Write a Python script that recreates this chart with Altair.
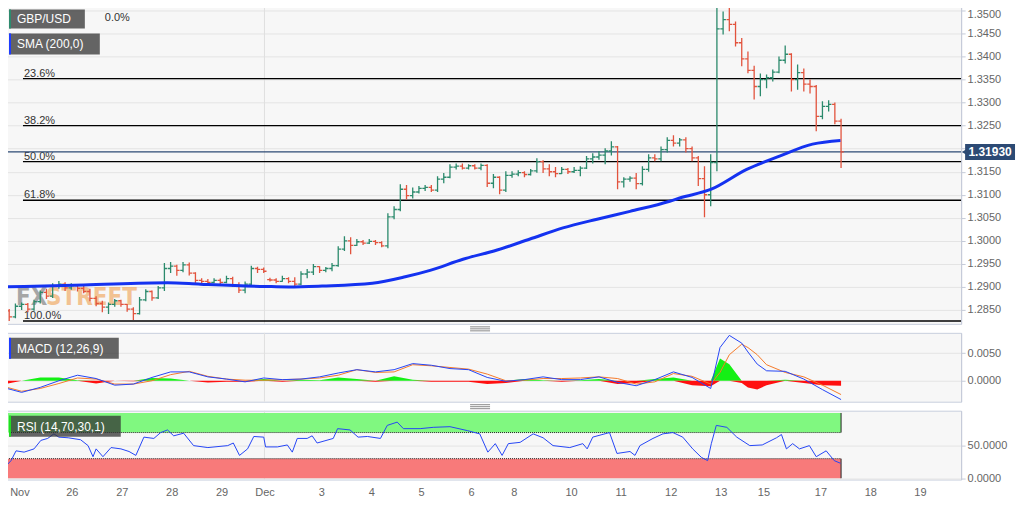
import altair as alt
import pandas as pd

# ---------------- data ----------------
opens = [1.2858, 1.2848, 1.2835, 1.2858, 1.2862, 1.2852, 1.2868, 1.2888, 1.2880, 1.2902,
         1.2906, 1.2898, 1.2903, 1.2897, 1.2890, 1.2875, 1.2864, 1.2856, 1.2862, 1.2870,
         1.2862, 1.2852, 1.2842, 1.2872, 1.2890, 1.2876, 1.2898, 1.2940, 1.2945, 1.2936,
         1.2948, 1.2930, 1.2914, 1.2912, 1.2910, 1.2914, 1.2910, 1.2918, 1.2904, 1.2893,
         1.2906, 1.2940, 1.2938, 1.2916, 1.2915, 1.2912, 1.2918, 1.2912, 1.2906, 1.2928,
         1.2932, 1.2944, 1.2936, 1.2940, 1.2946, 1.2982, 1.3000, 1.2990, 1.2998, 1.2995,
         1.2999, 1.2996, 1.2989, 1.3052, 1.3068, 1.3112, 1.3098, 1.3106, 1.3114, 1.3116,
         1.3110, 1.3134, 1.3138, 1.3160, 1.3162, 1.3158, 1.3163, 1.3158, 1.3164, 1.3125,
         1.3138, 1.3110, 1.3142, 1.3145, 1.3148, 1.3144, 1.3152, 1.3172, 1.3156, 1.3150,
         1.3146, 1.3155, 1.3150, 1.3153, 1.3158, 1.3178, 1.3182, 1.3186, 1.3195, 1.3204,
         1.3128, 1.3134, 1.3136, 1.3124, 1.3155, 1.3180, 1.3178, 1.3198, 1.3218, 1.3212,
         1.3219, 1.3200, 1.3180, 1.3135, 1.3100, 1.3170, 1.3460, 1.3480, 1.3470, 1.3430,
         1.3395, 1.3370, 1.3335, 1.3350, 1.3354, 1.3366, 1.3392, 1.3405, 1.3350, 1.3365,
         1.3340, 1.3335, 1.3270, 1.3292, 1.3296, 1.3260]
highs = [1.2866, 1.2852, 1.2864, 1.2866, 1.2865, 1.2872, 1.2892, 1.2896, 1.2908, 1.2913,
         1.2910, 1.2908, 1.2906, 1.2904, 1.2896, 1.2880, 1.2870, 1.2866, 1.2874, 1.2872,
         1.2863, 1.2856, 1.2878, 1.2895, 1.2892, 1.2902, 1.2952, 1.2954, 1.2948, 1.2954,
         1.2953, 1.2932, 1.2919, 1.2917, 1.2919, 1.2918, 1.2924, 1.2922, 1.2910, 1.2912,
         1.2946, 1.2944, 1.2942, 1.2920, 1.2919, 1.2924, 1.2921, 1.2921, 1.2934, 1.2939,
         1.2950, 1.2945, 1.2943, 1.2952, 1.2988, 1.3010, 1.3008, 1.3004, 1.3002, 1.3004,
         1.3002, 1.2999, 1.3060, 1.3075, 1.3123, 1.3121, 1.3116, 1.3119, 1.3121, 1.3121,
         1.3140, 1.3147, 1.3166, 1.3168, 1.3168, 1.3166, 1.3166, 1.3168, 1.3166, 1.3145,
         1.3140, 1.3151, 1.3151, 1.3153, 1.3151, 1.3156, 1.3179, 1.3175, 1.3166, 1.3160,
         1.3160, 1.3158, 1.3160, 1.3162, 1.3184, 1.3190, 1.3195, 1.3201, 1.3216, 1.3206,
         1.3138, 1.3140, 1.3147, 1.3162, 1.3188, 1.3188, 1.3205, 1.3225, 1.3229, 1.3223,
         1.3225, 1.3205, 1.3184, 1.3162, 1.3188, 1.3513, 1.3498, 1.3509, 1.3476, 1.3440,
         1.3411, 1.3380, 1.3363, 1.3361, 1.3372, 1.3400, 1.3424, 1.3407, 1.3383, 1.3374,
         1.3350, 1.3338, 1.3303, 1.3305, 1.3300, 1.3265]
lows = [1.2845, 1.2826, 1.2832, 1.2850, 1.2845, 1.2848, 1.2864, 1.2874, 1.2876, 1.2896,
        1.2891, 1.2894, 1.2890, 1.2886, 1.2869, 1.2858, 1.2845, 1.2841, 1.2857, 1.2857,
        1.2846, 1.2828, 1.2840, 1.2869, 1.2870, 1.2874, 1.2891, 1.2930, 1.2924, 1.2932,
        1.2925, 1.2908, 1.2905, 1.2906, 1.2908, 1.2906, 1.2908, 1.2900, 1.2887, 1.2886,
        1.2902, 1.2930, 1.2930, 1.2912, 1.2908, 1.2911, 1.2908, 1.2898, 1.2904, 1.2919,
        1.2926, 1.2930, 1.2932, 1.2934, 1.2944, 1.2978, 1.2971, 1.2989, 1.2991, 1.2993,
        1.2991, 1.2986, 1.2984, 1.3047, 1.3064, 1.3090, 1.3092, 1.3103, 1.3108, 1.3106,
        1.3106, 1.3125, 1.3136, 1.3155, 1.3155, 1.3155, 1.3155, 1.3153, 1.3117, 1.3114,
        1.3101, 1.3106, 1.3137, 1.3140, 1.3138, 1.3142, 1.3148, 1.3147, 1.3140, 1.3138,
        1.3145, 1.3145, 1.3147, 1.3140, 1.3156, 1.3168, 1.3176, 1.3166, 1.3185, 1.3112,
        1.3116, 1.3128, 1.3112, 1.3120, 1.3150, 1.3173, 1.3173, 1.3192, 1.3205, 1.3205,
        1.3192, 1.3173, 1.3119, 1.3051, 1.3075, 1.3151, 1.3448, 1.3455, 1.3422, 1.3379,
        1.3364, 1.3307, 1.3314, 1.3331, 1.3346, 1.3364, 1.3385, 1.3324, 1.3328, 1.3324,
        1.3320, 1.3238, 1.3264, 1.3281, 1.3253, 1.3158]
closes = [1.2848, 1.2835, 1.2858, 1.2862, 1.2852, 1.2868, 1.2888, 1.2880, 1.2902, 1.2906,
          1.2898, 1.2903, 1.2897, 1.2890, 1.2875, 1.2864, 1.2856, 1.2862, 1.2870, 1.2862,
          1.2852, 1.2842, 1.2872, 1.2890, 1.2876, 1.2898, 1.2940, 1.2945, 1.2936, 1.2948,
          1.2930, 1.2914, 1.2912, 1.2910, 1.2914, 1.2910, 1.2918, 1.2904, 1.2893, 1.2906,
          1.2940, 1.2938, 1.2934, 1.2915, 1.2912, 1.2918, 1.2912, 1.2906, 1.2928, 1.2932,
          1.2944, 1.2936, 1.2940, 1.2946, 1.2982, 1.3000, 1.2990, 1.2998, 1.2995, 1.2999,
          1.2996, 1.2989, 1.3052, 1.3068, 1.3112, 1.3098, 1.3106, 1.3114, 1.3116, 1.3110,
          1.3134, 1.3138, 1.3160, 1.3162, 1.3158, 1.3163, 1.3158, 1.3164, 1.3125, 1.3138,
          1.3110, 1.3142, 1.3145, 1.3148, 1.3144, 1.3152, 1.3172, 1.3156, 1.3150, 1.3146,
          1.3155, 1.3150, 1.3153, 1.3158, 1.3178, 1.3182, 1.3186, 1.3195, 1.3204, 1.3128,
          1.3134, 1.3136, 1.3124, 1.3155, 1.3180, 1.3178, 1.3198, 1.3218, 1.3212, 1.3219,
          1.3200, 1.3180, 1.3135, 1.3100, 1.3170, 1.3460, 1.3480, 1.3470, 1.3430, 1.3395,
          1.3370, 1.3335, 1.3350, 1.3354, 1.3366, 1.3392, 1.3405, 1.3350, 1.3365, 1.3340,
          1.3335, 1.3270, 1.3292, 1.3296, 1.3260, 1.3193]
bar_t = list(range(len(closes)))

sma_t = [0.1, 13, 26.5, 31.8, 42.3, 46, 51.4, 59.5, 64.8, 68.8, 74.1, 79.6, 84.9,
         90.2, 95.7, 101, 107.4, 109, 114.1, 119.8, 125.1, 130.4, 134.9]
sma_v = [1.2900, 1.2904, 1.2909, 1.2906, 1.2901, 1.2900, 1.2902, 1.2908, 1.2922, 1.2936,
         1.2960, 1.2980, 1.3004, 1.3028, 1.3047, 1.3064, 1.3086, 1.3093, 1.3112, 1.3155,
         1.3184, 1.3210, 1.3218]

fib_levels = [1.3515, 1.3352, 1.3250, 1.3172, 1.3088, 1.2826]
fib_labels = ["0.0%", "23.6%", "38.2%", "50.0%", "61.8%", "100.0%"]
last_price = [1.3193]
last_label = ["1.31930"]
price_ticks = [1.2850, 1.2900, 1.2950, 1.3000, 1.3050, 1.3100, 1.3150,
               1.3200, 1.3250, 1.3300, 1.3350, 1.3400, 1.3450, 1.3500]

macd_t = [0, 3, 6, 9, 12, 15, 18, 21, 24, 27, 30, 33, 36, 39, 42, 45, 48, 51, 54, 57,
          60, 63, 66, 69, 72, 75, 78, 81, 84, 87, 90, 93, 96, 99, 102, 105, 108, 111, 114,
          115.5, 117, 119, 120, 121.5, 123, 126, 129, 132, 135]
macd_v = [-0.0012, -0.0021, -0.0012, 0.0000, 0.0010, 0.0004, -0.0008, -0.0006, 0.0006, 0.0016,
          0.0016, 0.0007, 0.0003, -0.0002, 0.0005, 0.0002, 0.0003, 0.0007, 0.0014, 0.0020,
          0.0016, 0.0020, 0.0031, 0.0028, 0.0022, 0.0020, 0.0006, -0.0001, 0.0002, 0.0007,
          0.0002, 0.0002, 0.0007, -0.0003, -0.0009, 0.0002, 0.0016, 0.0006, -0.0014,
          0.0060, 0.0082, 0.0068, 0.0052, 0.0030, 0.0018, 0.0017, 0.0003, -0.0016, -0.0034]
signal_v = [-0.0010, -0.0019, -0.0014, -0.0005, 0.0005, 0.0003, -0.0006, -0.0006, 0.0000, 0.0011,
            0.0017, 0.0008, 0.0003, 0.0001, 0.0001, 0.0002, 0.0003, 0.0005, 0.0010, 0.0020,
            0.0015, 0.0016, 0.0029, 0.0027, 0.0024, 0.0021, 0.0012, 0.0000, 0.0001, 0.0004,
            0.0004, 0.0005, 0.0007, 0.0004, -0.0006, -0.0002, 0.0013, 0.0008, -0.0006,
            0.0015, 0.0047, 0.0066, 0.0060, 0.0047, 0.0029, 0.0015, 0.0007, -0.0008, -0.0025]
hist_v = [-0.0007, 0.0000, 0.0006, 0.0006, 0.0001, -0.0005, 0.0000, -0.0001, 0.0005, 0.0004,
          0.0000, -0.0003, -0.0002, -0.0002, 0.0003, -0.0002, 0.0002, 0.0001, 0.0006, 0.0003,
          -0.0002, 0.0008, 0.0002, -0.0002, -0.0002, -0.0002, -0.0006, -0.0004, 0.0003, 0.0001,
          -0.0002, 0.0001, 0.0003, -0.0006, -0.0004, 0.0003, 0.0006, -0.0008, -0.0010,
          0.0040, 0.0030, -0.0004, -0.0012, -0.0016, -0.0008, 0.0002, -0.0004, -0.0008, -0.0009]

rsi_t = [0, 0.5, 1.3, 2.1, 3.4, 5.0, 6.1, 7.2, 8.2, 9.0, 10.5, 12.5, 13.7, 14.5, 15.0, 16.1,
         17.4, 19.0, 20.3, 21.4, 22.7, 24.3, 25.4, 26.5, 27.5, 29.1, 30.7, 33.0, 36.2, 37.1,
         38.1, 39.4, 40.4, 42.0, 42.3, 44.2, 45.8, 46.6, 47.4, 49.0, 49.8, 50.6, 53.2, 53.9,
         55.9, 57.2, 58.7, 60.8, 61.9, 63.5, 64.5, 67.2, 69.3, 72.0, 74.8, 76.8, 78.1, 79.3,
         80.4, 81.4, 83.3, 85.4, 87.0, 88.6, 91.3, 93.4, 94.1, 95.0, 97.7, 98.9, 101.0, 101.8,
         102.6, 104.7, 106.3, 107.9, 109.5, 111.1, 112.5, 113.5, 114.1, 114.9, 116.6, 118.2,
         120.3, 122.3, 124.6, 125.4, 126.2, 127.2, 128.3, 129.9, 131.0, 132.6, 133.9, 134.9]
rsi_v = [22, 19, 27, 42, 40, 45, 58, 61, 68, 63, 62, 59, 50, 33, 45, 33, 47, 45, 41, 35,
         63, 61, 70, 74, 65, 69, 50, 47, 50, 54, 35, 45, 64, 63, 48, 48, 51, 40, 61, 61,
         65, 54, 61, 76, 74, 63, 64, 61, 81, 86, 76, 76, 78, 79, 73, 68, 40, 53, 35, 53,
         55, 68, 62, 50, 47, 53, 45, 63, 70, 38, 41, 35, 50, 61, 68, 70, 63, 45, 32, 27,
         53, 81, 78, 63, 50, 51, 62, 67, 45, 53, 45, 50, 33, 42, 27, 23]
rsi_levels = [70, 30]
zone_lo = [70, 0]
zone_hi = [100, 30]

tick_t = [2.65, 11.09, 19.13, 27.17, 35.21, 42.12, 51.29, 59.32, 67.36, 75.4, 82.3,
          91.5, 99.5, 107.56, 115.6, 122.5, 131.67, 139.7, 147.7]
tick_labels = ["Nov", "26", "27", "28", "29", "Dec", "3", "4", "5", "6", "8",
               "10", "11", "12", "13", "15", "17", "18", "19"]
month_t = [42.12]

# ---------------- style ----------------
W = 962
H_PRICE = 323
H_IND = 69
X_DOMAIN = [-0.32, 154.34]
FONT = "Liberation Sans"
GREEN = "#2b8a6c"
RED = "#e2533d"
AXC = "#c5cbd8"

xs = alt.Scale(domain=X_DOMAIN, nice=False, zero=False)


def XN(f):
    return alt.X(f, type="quantitative", scale=xs, axis=None)


def yaxis(values, hide=None, top=None):
    kw = {}
    if hide is not None:
        kw["labelExpr"] = f"datum.value == {hide} ? '' : format(datum.value, '.4f')"
    if top is not None:
        kw["labelOffset"] = {"condition": {"test": f"datum.value == {top}", "value": 4}, "value": 0}
    return alt.Axis(orient="right", values=values, format=".4f", title=None, grid=True,
                    gridColor="#e4e4e4", gridWidth=1, domainColor=AXC, tickColor=AXC,
                    tickSize=4, labelPadding=2, labelFontSize=11, labelColor="#666666",
                    labelFont=FONT, labelFlush=False, labelOverlap=False, **kw)


ps = alt.Scale(domain=[1.28198, 1.35195], nice=False, zero=False)
p_axis = yaxis(price_ticks, hide=1.32, top=1.35)


def PY(f):
    return alt.Y(f, type="quantitative", scale=ps, axis=p_axis)


dummy = pd.DataFrame({"a": [0]})


def label_box(text, x1, y0, y1, stripe):
    box = alt.Chart(dummy).mark_rect(color="#333333", opacity=0.75).encode(
        x=alt.value(8), x2=alt.value(x1), y=alt.value(y0), y2=alt.value(y1))
    st = alt.Chart(dummy).mark_rect(color=stripe).encode(
        x=alt.value(8), x2=alt.value(10), y=alt.value(y0), y2=alt.value(y1))
    tx = alt.Chart(dummy).mark_text(text=text, color="white", fontSize=12, font=FONT,
                                    align="left", baseline="middle").encode(
        x=alt.value(16), y=alt.value((y0 + y1) / 2 + 0.5))
    return [box, st, tx]


def splitter():
    return [alt.Chart(dummy).mark_rule(color="#8a8a8a", strokeWidth=1).encode(
        x=alt.value(470), x2=alt.value(490), y=alt.value(v)) for v in (-6, -4, -2)]


month_df = pd.DataFrame({"t": month_t})

# ---------------- price panel ----------------
bars = pd.DataFrame({"t": bar_t, "o": opens, "h": highs, "l": lows, "c": closes})
base = alt.Chart(bars).transform_calculate(
    dir="datum.c >= datum.o ? 'up' : 'down'", t0="datum.t - 0.45", t1="datum.t + 0.45")
col = alt.Color("dir:N", scale=alt.Scale(domain=["up", "down"], range=[GREEN, RED]), legend=None)
wicks = base.mark_rule(strokeWidth=1.3, clip=True).encode(x=XN("t"), y=PY("l"), y2="h", color=col)
oticks = base.mark_rule(strokeWidth=1.3, clip=True).encode(x=XN("t0"), x2="t", y=PY("o"), color=col)
cticks = base.mark_rule(strokeWidth=1.3, clip=True).encode(x=XN("t"), x2="t1", y=PY("c"), color=col)

month_p = alt.Chart(month_df).mark_rule(color="#e0e0e0", strokeWidth=1).encode(x=XN("t"))

WM_FONT = "DejaVu Sans Condensed"
wm1 = alt.Chart(dummy).mark_text(text="FX", font=WM_FONT, fontSize=24,
                                 fontWeight="bold", color="#8c8c8c", opacity=0.75,
                                 align="left", baseline="alphabetic").encode(
    x=alt.value(15), y=alt.value(304))
wm2 = alt.Chart(dummy).mark_text(text="STREET", font=WM_FONT, fontSize=24,
                                 fontWeight="bold", color="#f0a050", opacity=0.6,
                                 align="left", baseline="alphabetic").encode(
    x=alt.value(45), y=alt.value(304))

fib_df = pd.DataFrame({"v": fib_levels, "label": fib_labels})
fib_rules = alt.Chart(fib_df).mark_rule(color="#000000", strokeWidth=1.4, clip=True).encode(
    x=alt.value(22), x2=alt.value(W), y=PY("v"))
# level labels sit just above their line; the top one (0.0%) would fall outside the
# visible area, so it is written just below its line, to the right of the legend boxes
fib_text = alt.Chart(fib_df).transform_filter(f"datum.v < {fib_levels[0]}").mark_text(
    align="left", baseline="alphabetic", dy=-2, fontSize=11, font=FONT, color="#333333",
    clip=True).encode(x=alt.value(23), y=PY("v"), text="label:N")
fib_top = alt.Chart(fib_df).transform_filter(f"datum.v >= {fib_levels[0]}").mark_text(
    align="left", baseline="top", dy=8, fontSize=11, font=FONT, color="#333333").encode(
    x=alt.value(104), y=PY("v"), text="label:N")

sma = alt.Chart(pd.DataFrame({"t": sma_t, "v": sma_v})).mark_line(
    color="#1432f0", strokeWidth=3, interpolate="monotone", clip=True).encode(x=XN("t"), y=PY("v"))

lp_df = pd.DataFrame({"v": last_price, "label": last_label})
NAVY = "#2c4a74"
lp_rule = alt.Chart(lp_df).mark_rule(color=NAVY, strokeWidth=1.3, clip=True).encode(
    x=alt.value(0), x2=alt.value(W), y=PY("v"))
lp_box = alt.Chart(lp_df).mark_rule(color=NAVY, strokeWidth=16, strokeCap="butt").encode(
    x=alt.value(966), x2=alt.value(1016), y=PY("v"))
lp_arrow = alt.Chart(lp_df).mark_point(shape="triangle-left", filled=True, color=NAVY,
                                       size=30, opacity=1).encode(x=alt.value(965), y=PY("v"))
lp_text = alt.Chart(lp_df).mark_text(color="white", fontWeight="bold", fontSize=12, font=FONT,
                                     align="center", baseline="middle").encode(
    x=alt.value(991), y=PY("v"), text="label:N")

price = alt.layer(
    month_p, wm1, wm2, fib_rules, fib_text, fib_top, lp_rule, wicks, oticks, cticks, sma,
    lp_box, lp_arrow, lp_text,
    *label_box("GBP/USD", 84, 8, 27, "#2e8b6e"), *label_box("SMA (200,0)", 99, 32, 53, "#1e3cff"),
).properties(width=W, height=H_PRICE)

# ---------------- MACD panel ----------------
ms = alt.Scale(domain=[-0.00379, 0.00866], nice=False, zero=False)
m_axis = yaxis([0.0, 0.005])


def MY(f):
    return alt.Y(f, type="quantitative", scale=ms, axis=m_axis)


mdf = pd.DataFrame({"t": macd_t, "m": macd_v, "s": signal_v, "h": hist_v})
mbase = alt.Chart(mdf).transform_calculate(hp="max(datum.h, 0)", hn="min(datum.h, 0)")
hpos = mbase.mark_area(color="#14f014", clip=True).encode(x=XN("t"), y=MY("hp"), y2=alt.datum(0))
hneg = mbase.mark_area(color="#ff1010", clip=True).encode(x=XN("t"), y=MY("hn"), y2=alt.datum(0))
sig = mbase.mark_line(color="#f57a2a", strokeWidth=1, clip=True).encode(x=XN("t"), y=MY("s"))
mac = mbase.mark_line(color="#2545f5", strokeWidth=1, clip=True).encode(x=XN("t"), y=MY("m"))
month_m = alt.Chart(month_df).mark_rule(color="#e0e0e0", strokeWidth=1).encode(x=XN("t"))

macd = alt.layer(
    month_m, hpos, hneg, sig, mac, *label_box("MACD (12,26,9)", 118, 5, 26, "#1e3cff"), *splitter()
).properties(width=W, height=H_IND)

# ---------------- RSI panel ----------------
rs = alt.Scale(domain=[-2, 103.5], nice=False, zero=False)
r_axis = yaxis([0, 50])
vals = "[" + ",".join(repr(v) for v in tick_t) + "]"
labs = "[" + ",".join("'%s'" % s for s in tick_labels) + "]"
x_axis = alt.Axis(values=tick_t, labelExpr=f"{labs}[indexof({vals}, datum.value)]", title=None,
                  ticks=False, domain=False, grid=False, labelFontSize=11, labelColor="#666666",
                  labelPadding=7, labelFlush=False, labelOverlap=False, labelFont=FONT)


def RX(f):
    return alt.X(f, type="quantitative", scale=xs, axis=x_axis)


def RY(f):
    return alt.Y(f, type="quantitative", scale=rs, axis=r_axis)


zdf = pd.DataFrame({"lo": zone_lo, "hi": zone_hi, "zone": ["ob", "os"],
                    "t0": [X_DOMAIN[0]] * 2, "t1": [bar_t[-1]] * 2})
zones = alt.Chart(zdf).mark_rect(clip=True).encode(
    x=RX("t0"), x2="t1", y=RY("lo"), y2="hi",
    color=alt.Color("zone:N", scale=alt.Scale(domain=["ob", "os"], range=["#80f880", "#f87a7a"]),
                    legend=None))
zedge_r = alt.Chart(zdf).mark_rule(color="#222222", strokeWidth=1, clip=True).encode(
    x=RX("t1"), y=RY("lo"), y2="hi")
ldf = pd.DataFrame({"lv": rsi_levels, "t0": [X_DOMAIN[0]] * 2, "t1": [bar_t[-1]] * 2})
lvl = alt.Chart(ldf).mark_rule(color="#222222", strokeWidth=1, strokeDash=[1, 1], clip=True).encode(
    x=RX("t0"), x2="t1", y=RY("lv"))
rline = alt.Chart(pd.DataFrame({"t": rsi_t, "v": rsi_v})).mark_line(
    color="#2545f5", strokeWidth=1, clip=True).encode(x=RX("t"), y=RY("v"))
month_r = alt.Chart(month_df).mark_rule(color="#e0e0e0", strokeWidth=1).encode(x=RX("t"))

rsi = alt.layer(
    month_r, zones, lvl, zedge_r, rline,
    *label_box("RSI (14,70,30,1)", 120, 5, 26, "#22dd22"), *splitter()
).properties(width=W, height=H_IND)

chart = alt.vconcat(price, macd, rsi, spacing=9, bounds="flush").resolve_scale(
    color="independent"
).properties(
    padding={"left": -8, "top": -8, "right": 0, "bottom": 0}, background="white"
).configure_view(fill="#f7f7f7", stroke="#c8cfdd", strokeWidth=1)

chart.save("out.html", embed_options={"renderer": "svg", "actions": False})
